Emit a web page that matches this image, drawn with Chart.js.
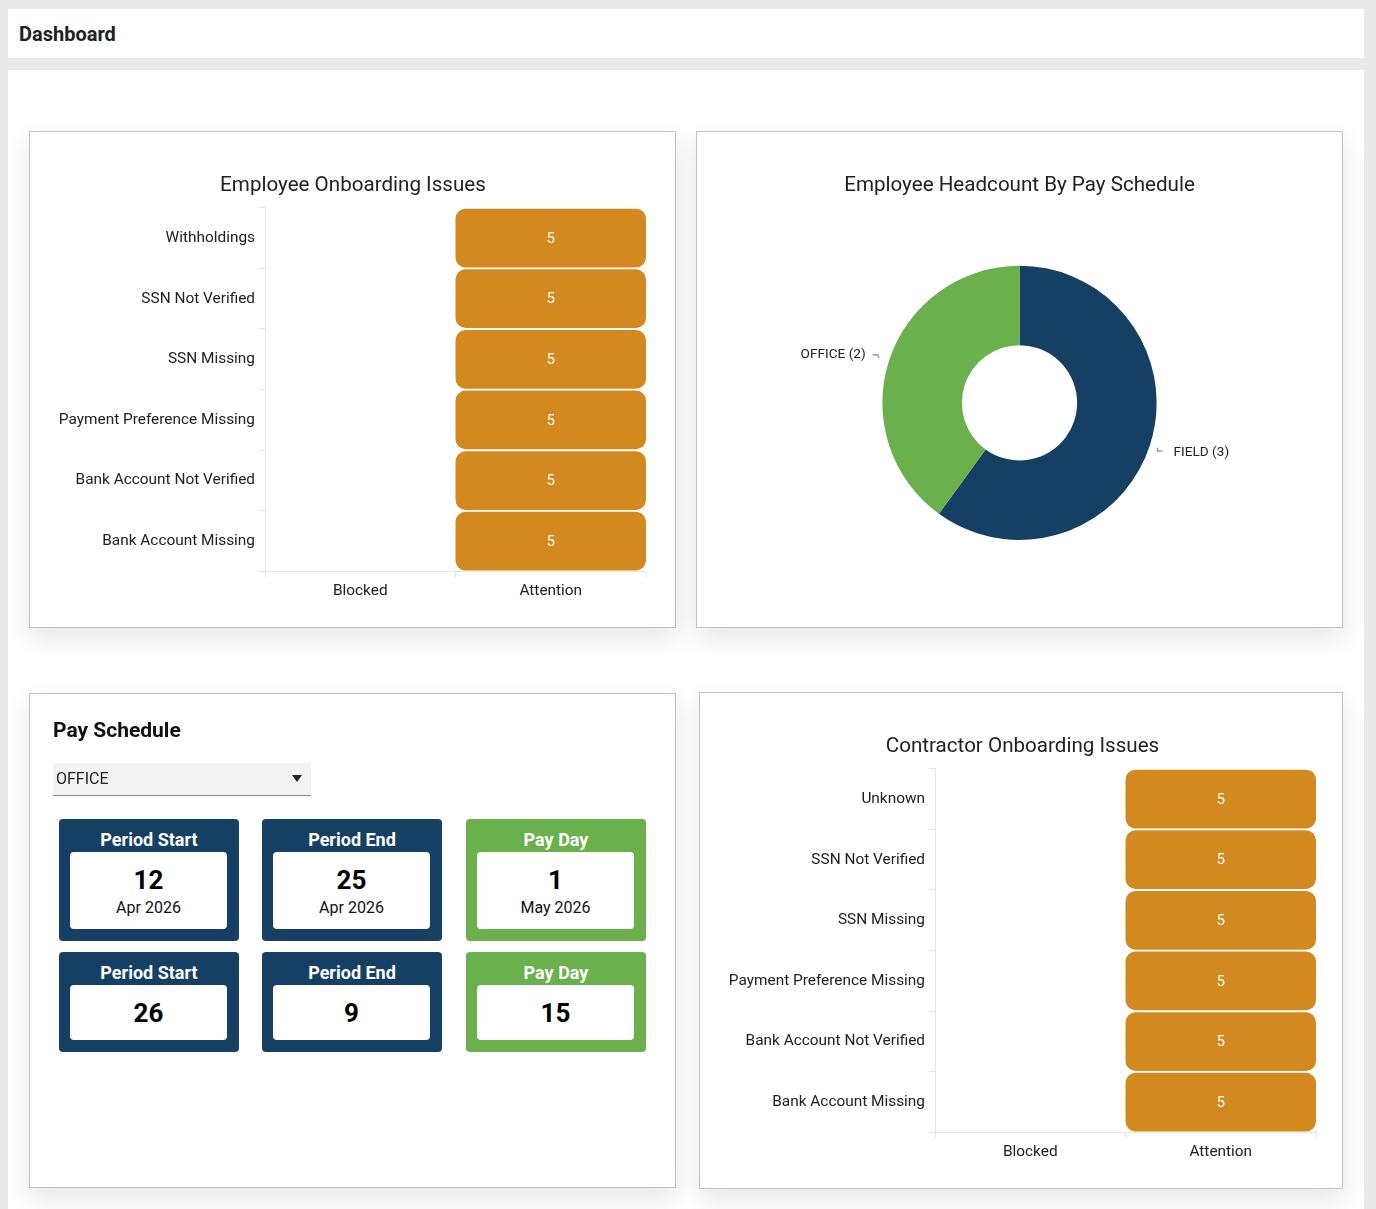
<!DOCTYPE html>
<html>
<head>
<meta charset="utf-8">
<title>Dashboard</title>
<script src="https://cdn.jsdelivr.net/npm/chart.js@4.4.1/dist/chart.umd.min.js"></script>
<style>
  html, body { margin: 0; padding: 0; }
  body { background: #e9e9e9; font-family: Roboto, 'Noto Sans', sans-serif; color: #212121; width: 1376px; height: 1209px; position: relative; overflow: hidden; }
  .topbar { position: absolute; left: 8px; top: 9px; width: 1356px; height: 49px; background: #fff; }
  .topbar h1 { margin: 0; position: absolute; left: 11px; top: 13px; font-size: 20px; font-weight: 700; line-height: 24px; color: #212121; }
  .main { position: absolute; left: 8px; top: 70px; width: 1356px; height: 1160px; background: #fff; }
  .card { position: absolute; background: #fff; border: 1px solid #c2c2c2; box-sizing: border-box; box-shadow: 0 10px 24px rgba(0,0,0,0.10); }
  .card canvas { display: block; }
  .ps-title { position: absolute; left: 23px; top: 24px; font-size: 21px; font-weight: 700; margin: 0; color: #111; }
  .select { position: absolute; left: 23px; top: 69px; width: 258px; height: 33px; background: #f3f3f3; border-bottom: 1px solid #8a8a8a; border-radius: 3px 3px 0 0; box-sizing: border-box; font-size: 16px; line-height: 31px; padding-left: 3px; color: #212121; }
  .select .caret { position: absolute; right: 9px; top: 12px; width: 0; height: 0; border-left: 5px solid transparent; border-right: 5px solid transparent; border-top: 7px solid #222; }
  .tile { position: absolute; width: 180px; border-radius: 4px; box-sizing: border-box; }
  .tile .head { color: #fff; font-weight: 700; font-size: 18px; text-align: center; line-height: 22px; padding-top: 10px; }
  .tile .box { position: absolute; left: 11px; right: 12px; top: 33px; bottom: 12px; background: #fff; border-radius: 4px; text-align: center; }
  .tile .num { font-size: 26px; font-weight: 700; color: #000; line-height: 30px; }
  .tile .date { font-size: 16px; color: #111; line-height: 20px; margin-top: 3px; }
</style>
</head>
<body>
<div class="topbar"><h1>Dashboard</h1></div>
<div class="main"></div>

<div class="card" style="left:29px; top:131px; width:647px; height:497px;">
  <div style="position:relative; width:645px; height:495px;"><canvas id="employeeIssuesChart"></canvas></div>
</div>
<div class="card" style="left:696px; top:131px; width:647px; height:497px;">
  <div style="position:relative; width:645px; height:495px;"><canvas id="headcountChart"></canvas></div>
</div>
<div class="card" id="payScheduleCard" style="left:29px; top:693px; width:647px; height:495px;">
  <h2 class="ps-title">Pay Schedule</h2>
  <div class="select"><span id="scheduleSelect"></span><span class="caret"></span></div>
</div>
<div class="card" style="left:699px; top:692px; width:644px; height:497px;">
  <div style="position:relative; width:642px; height:495px;"><canvas id="contractorIssuesChart"></canvas></div>
</div>

<script>
'use strict';

// ── Data
const statusLabels = ['Blocked', 'Attention'];

const employeeIssues = ['Withholdings', 'SSN Not Verified', 'SSN Missing', 'Payment Preference Missing', 'Bank Account Not Verified', 'Bank Account Missing'];
const employeeBlocked = [0, 0, 0, 0, 0, 0];
const employeeAttention = [5, 5, 5, 5, 5, 5];

const contractorIssues = ['Unknown', 'SSN Not Verified', 'SSN Missing', 'Payment Preference Missing', 'Bank Account Not Verified', 'Bank Account Missing'];
const contractorBlocked = [0, 0, 0, 0, 0, 0];
const contractorAttention = [5, 5, 5, 5, 5, 5];

const payScheduleNames = ['FIELD', 'OFFICE'];
const payScheduleHeadcount = [3, 2];

const selectedSchedule = 'OFFICE';
const tileTitles = ['Period Start', 'Period End', 'Pay Day'];
const currentDays = [12, 25, 1];
const currentMonths = ['Apr 2026', 'Apr 2026', 'May 2026'];
const nextDays = [26, 9, 15];

const FONT = 'Roboto, "Noto Sans", sans-serif';
const AXIS_GREY = '#e6e6e6';
const STATUS_COLORS = ['#c0392b', '#d2891f'];
const SCHEDULE_COLORS = ['#164063', '#6ab04c'];

Chart.defaults.font.family = FONT;
Chart.defaults.color = '#212121';

// writes the count in the middle of each cell
const cellLabelPlugin = {
    id: 'cellLabels',
    afterDatasetsDraw(chart) {
        const ctx = chart.ctx;
        ctx.save();
        ctx.fillStyle = '#ffffff';
        ctx.font = '15px ' + FONT;
        ctx.textAlign = 'center';
        ctx.textBaseline = 'middle';
        chart.data.datasets.forEach((ds, di) => {
            const meta = chart.getDatasetMeta(di);
            meta.data.forEach((bar, i) => {
                if (ds.data[i] == null) return;
                const p = bar.getCenterPoint();
                ctx.fillText(String(ds.counts[i]), p.x, p.y + 1);
            });
        });
        ctx.restore();
    }
};

function renderIssueChart(id, title, issues, blocked, attention, pad, yWidth) {
    const el = document.getElementById(id);
    const cell = col => v => (v > 0 ? [col, col + 1] : null);

    new Chart(el, {
        type: 'bar',
        data: {
            labels: issues,
            datasets: [
                { label: statusLabels[0], data: blocked.map(cell(0)), counts: blocked, backgroundColor: STATUS_COLORS[0] },
                { label: statusLabels[1], data: attention.map(cell(1)), counts: attention, backgroundColor: STATUS_COLORS[1] }
            ]
        },
        options: {
            indexAxis: 'y',
            responsive: true,
            maintainAspectRatio: false,
            animation: false,
            layout: { padding: pad },
            datasets: {
                bar: {
                    grouped: false,
                    categoryPercentage: 1,
                    barPercentage: 0.968,
                    borderRadius: 10,
                    borderSkipped: false
                }
            },
            plugins: {
                legend: { display: false },
                tooltip: { enabled: false },
                title: {
                    display: true,
                    text: title,
                    color: '#212121',
                    font: { size: 20.6, weight: 'normal' },
                    padding: { top: 10, bottom: 10 }
                }
            },
            scales: {
                x: {
                    type: 'linear',
                    min: 0,
                    max: statusLabels.length,
                    ticks: {
                        stepSize: 0.5,
                        autoSkip: false,
                        maxRotation: 0,
                        color: '#212121',
                        font: { size: 15.4 },
                        padding: 4,
                        callback: v => (Number.isInteger(v) ? '' : statusLabels[Math.floor(v)])
                    },
                    grid: {
                        drawOnChartArea: false,
                        tickLength: 6,
                        color: c => (c.tick && Number.isInteger(c.tick.value) ? AXIS_GREY : 'rgba(0,0,0,0)')
                    },
                    border: { color: AXIS_GREY }
                },
                y: {
                    afterFit: scale => { scale.width = yWidth; },
                    ticks: { color: '#212121', font: { size: 15.4 }, padding: 4 },
                    grid: { drawOnChartArea: false, tickLength: 6, color: AXIS_GREY },
                    border: { color: AXIS_GREY }
                }
            }
        },
        plugins: [cellLabelPlugin]
    });
}

// outside labels with a small hooked leader line
const outsideLabelPlugin = {
    id: 'outsideLabels',
    afterDatasetsDraw(chart) {
        const ctx = chart.ctx;
        const meta = chart.getDatasetMeta(0);
        ctx.save();
        ctx.font = '13.6px ' + FONT;
        ctx.textBaseline = 'middle';
        meta.data.forEach((arc, i) => {
            const a = (arc.startAngle + arc.endAngle) / 2;
            const r = arc.outerRadius;
            const cos = Math.cos(a), sin = Math.sin(a);
            const dir = cos >= 0 ? 1 : -1;
            const x1 = arc.x + cos * (r + 8), y1 = arc.y + sin * (r + 8);
            const x2 = arc.x + cos * (r + 12), y2 = arc.y + sin * (r + 12);
            ctx.strokeStyle = '#9a9a9a';
            ctx.lineWidth = 1.5;
            ctx.beginPath();
            if (dir > 0) {
                ctx.moveTo(x1, y1);
                ctx.lineTo(x1, y2 + 2);
                ctx.lineTo(x1 + 5, y2 + 2);
            } else {
                ctx.moveTo(x2 - 5, y2 - 2);
                ctx.lineTo(x2, y2 - 2);
                ctx.lineTo(x2 + 1, y2 + 1);
            }
            ctx.stroke();
            ctx.fillStyle = '#212121';
            ctx.textAlign = dir > 0 ? 'left' : 'right';
            const tx = dir > 0 ? x1 + 16 : x2 - 12;
            ctx.fillText(`${chart.data.labels[i]} (${chart.data.datasets[0].data[i]})`, tx, dir > 0 ? y2 + 4 : y2 - 2);
        });
        ctx.restore();
    }
};

function renderHeadcountChart() {
    const el = document.getElementById('headcountChart');
    new Chart(el, {
        type: 'doughnut',
        data: {
            labels: payScheduleNames,
            datasets: [{
                data: payScheduleHeadcount,
                backgroundColor: SCHEDULE_COLORS,
                borderWidth: 0
            }]
        },
        options: {
            responsive: true,
            maintainAspectRatio: false,
            animation: false,
            cutout: '42%',
            layout: { padding: { top: 31, bottom: 87, left: 30, right: 30 } },
            plugins: {
                legend: { display: false },
                tooltip: { enabled: false },
                title: {
                    display: true,
                    text: 'Employee Headcount By Pay Schedule',
                    color: '#212121',
                    font: { size: 20.6, weight: 'normal' },
                    padding: { top: 10, bottom: 68 }
                }
            }
        },
        plugins: [outsideLabelPlugin]
    });
}

function renderPaySchedule() {
    document.getElementById('scheduleSelect').textContent = selectedSchedule;
    const card = document.getElementById('payScheduleCard');
    const lefts = [29, 232, 436];
    const tileColor = i => (i === 2 ? '#6ab04c' : '#164063');

    tileTitles.forEach((t, i) => {
        const top = document.createElement('div');
        top.className = 'tile';
        top.style.cssText = `left:${lefts[i]}px; top:125px; height:122px; background:${tileColor(i)};`;
        top.innerHTML = `<div class="head">${t}</div><div class="box"><div class="num" style="padding-top:13px">${currentDays[i]}</div><div class="date">${currentMonths[i]}</div></div>`;
        card.appendChild(top);

        const bottom = document.createElement('div');
        bottom.className = 'tile';
        bottom.style.cssText = `left:${lefts[i]}px; top:258px; height:100px; background:${tileColor(i)};`;
        bottom.innerHTML = `<div class="head">${t}</div><div class="box"><div class="num" style="padding-top:13px">${nextDays[i]}</div></div>`;
        card.appendChild(bottom);
    });
}

document.addEventListener('DOMContentLoaded', () => {
    renderIssueChart('employeeIssuesChart', 'Employee Onboarding Issues', employeeIssues, employeeBlocked, employeeAttention,
        { top: 31, left: 30, right: 29, bottom: 23 }, 205);
    renderHeadcountChart();
    renderPaySchedule();
    renderIssueChart('contractorIssuesChart', 'Contractor Onboarding Issues', contractorIssues, contractorBlocked, contractorAttention,
        { top: 31, left: 29, right: 26, bottom: 23 }, 206);
});
</script>
</body>
</html>
